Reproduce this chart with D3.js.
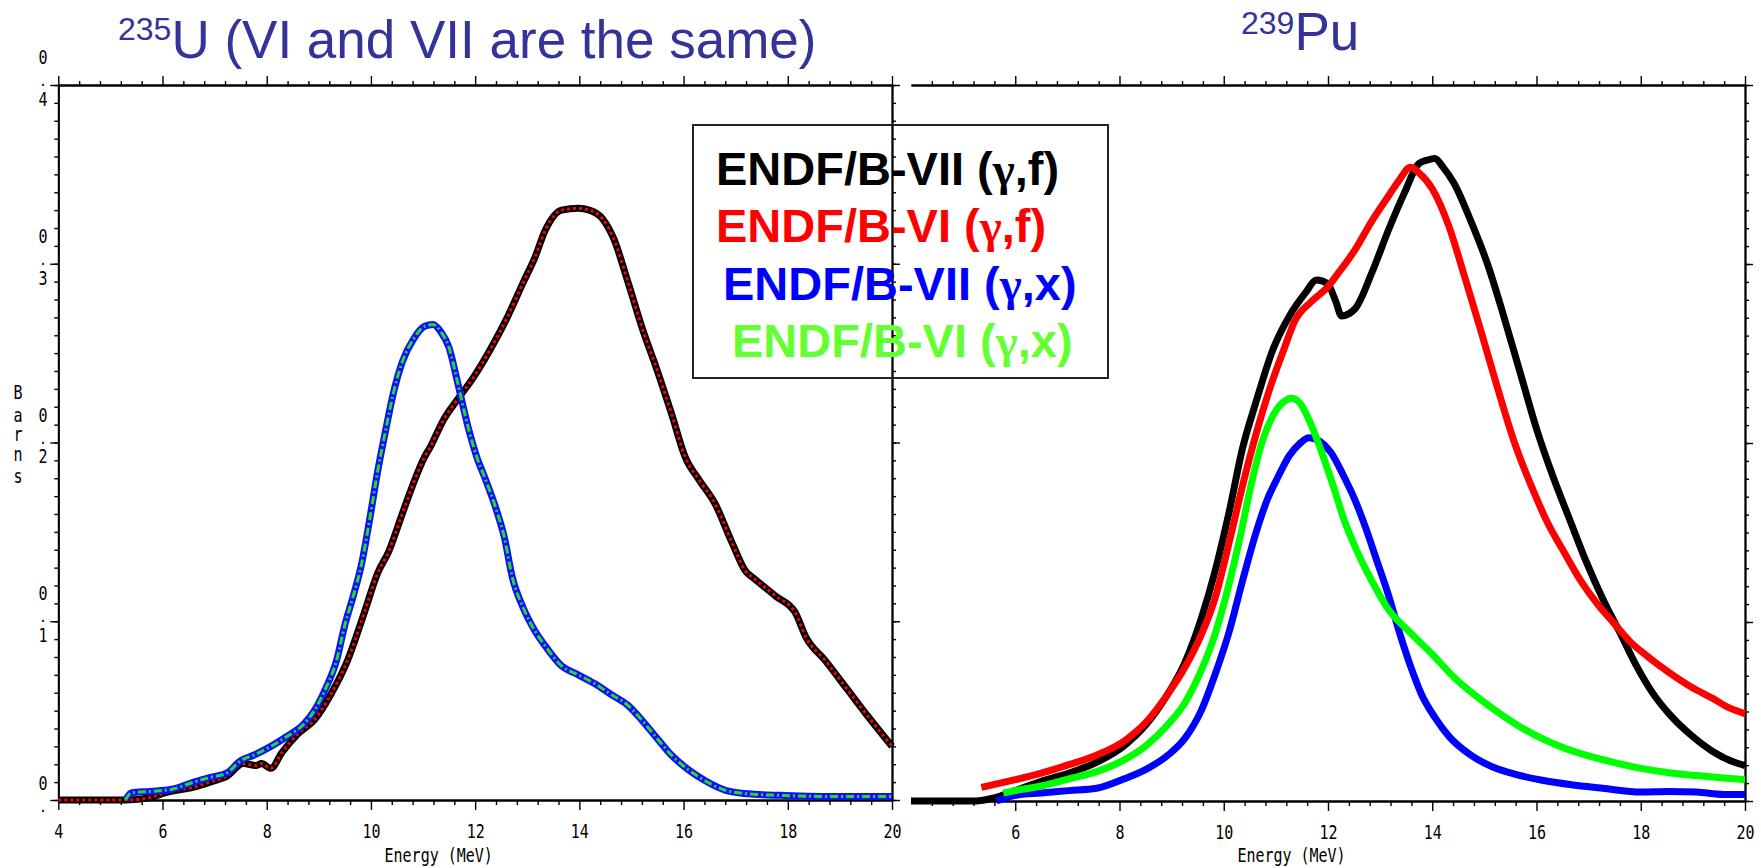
<!DOCTYPE html>
<html><head><meta charset="utf-8">
<script src="https://cdn.jsdelivr.net/npm/d3@7"></script>
<style>body{margin:0;background:#fff}svg{display:block}</style>
</head><body>
<svg id="chart" width="1761" height="868"></svg>
<script>
// ---------- data ----------
const xMajorTicks = [4, 6, 8, 10, 12, 14, 16, 18, 20];
const xMajorTicksPu = [6, 8, 10, 12, 14, 16, 18, 20];
const yMajorTicks = [0, 0.1, 0.2, 0.3, 0.4];
const yTickLabels = ["0.0", "0.1", "0.2", "0.3", "0.4"];
const xAxisTitle = "Energy (MeV)";
const yAxisTitle = "Barns";
const titleU = ["235", "U (VI and VII are the same)"];
const titlePu = ["239", "Pu"];
const legendLabels = [
  ["ENDF/B-VII (", "γ", ",f)"],
  ["ENDF/B-VI (", "γ", ",f)"],
  ["ENDF/B-VII (", "γ", ",x)"],
  ["ENDF/B-VI (", "γ", ",x)"]
];
const legendColors = ["#000000", "#ff0000", "#0000ff", "#66ff33"];

// 235U : VI and VII identical
const u235Fission = [[4,0],[5.3,0],[5.76,0.0013],[6.04,0.004],[6.6,0.0072],[6.97,0.0106],[7.23,0.0132],[7.55,0.0204],[7.8,0.0193],[7.9,0.0204],[8.08,0.0177],[8.29,0.0265],[8.6,0.037],[8.92,0.045],[9.24,0.0596],[9.55,0.078],[9.87,0.1046],[10.13,0.127],[10.34,0.139],[10.6,0.16],[10.8,0.176],[11.03,0.192],[11.13,0.197],[11.4,0.213],[11.66,0.224],[11.98,0.237],[12.29,0.252],[12.6,0.269],[12.93,0.29],[13.14,0.303],[13.35,0.319],[13.66,0.33],[13.98,0.331],[14.19,0.33],[14.45,0.325],[14.66,0.314],[14.93,0.29],[15.24,0.261],[15.45,0.244],[15.77,0.216],[16.03,0.192],[16.3,0.179],[16.6,0.166],[16.93,0.144],[17.19,0.128],[17.35,0.124],[17.77,0.114],[18.14,0.105],[18.35,0.091],[18.72,0.078],[19.14,0.062],[19.56,0.046],[20,0.03]];
const u235Absorption = [[5.29,0],[5.4,0.004],[5.76,0.0048],[6.18,0.006],[6.6,0.01],[6.92,0.0127],[7.23,0.015],[7.5,0.022],[7.76,0.0252],[8.08,0.03],[8.4,0.0358],[8.71,0.0424],[8.92,0.0503],[9.13,0.0623],[9.34,0.078],[9.5,0.098],[9.66,0.114],[9.82,0.132],[9.97,0.156],[10.13,0.184],[10.29,0.208],[10.45,0.23],[10.6,0.245],[10.82,0.258],[11.03,0.265],[11.19,0.266],[11.34,0.262],[11.5,0.253],[11.66,0.234],[11.87,0.208],[12.03,0.192],[12.19,0.18],[12.4,0.163],[12.56,0.147],[12.71,0.125],[12.93,0.107],[13.14,0.095],[13.35,0.086],[13.66,0.075],[13.98,0.07],[14.3,0.065],[14.61,0.059],[14.93,0.053],[15.19,0.045],[15.45,0.036],[15.77,0.025],[16.09,0.017],[16.4,0.011],[16.82,0.0053],[17.35,0.0032],[17.88,0.0026],[18.93,0.0019],[20,0.0019]];

// 239Pu
const puFissionVII = [[4,0],[5.24,0],[5.6,0.0018],[6,0.0058],[6.5,0.011],[7.03,0.0156],[7.56,0.0216],[8.09,0.0309],[8.51,0.0427],[8.93,0.0599],[9.25,0.077],[9.57,0.102],[9.83,0.128],[10.1,0.161],[10.36,0.197],[10.62,0.223],[10.94,0.252],[11.26,0.271],[11.57,0.284],[11.78,0.291],[11.99,0.289],[12.15,0.279],[12.26,0.271],[12.52,0.275],[12.84,0.295],[13.16,0.319],[13.47,0.34],[13.74,0.356],[13.9,0.358],[14.05,0.359],[14.21,0.354],[14.42,0.345],[14.74,0.324],[15.06,0.3],[15.37,0.271],[15.69,0.239],[16,0.208],[16.32,0.181],[16.64,0.157],[16.95,0.134],[17.27,0.113],[17.59,0.0947],[17.9,0.0765],[18.22,0.0607],[18.54,0.0488],[18.96,0.0369],[19.38,0.0277],[19.8,0.0216],[20,0.0198]];
const puFissionVI = [[5.35,0.0076],[6,0.0119],[6.5,0.0156],[7.03,0.0203],[7.56,0.0256],[8.09,0.0335],[8.51,0.044],[8.93,0.0599],[9.25,0.0744],[9.57,0.0929],[9.83,0.113],[10.1,0.144],[10.36,0.176],[10.62,0.205],[10.89,0.231],[11.15,0.252],[11.36,0.268],[11.68,0.279],[11.99,0.287],[12.2,0.295],[12.52,0.308],[12.84,0.324],[13.16,0.338],[13.37,0.347],[13.58,0.354],[13.74,0.351],[14,0.342],[14.32,0.321],[14.63,0.292],[14.95,0.261],[15.27,0.229],[15.58,0.2],[15.9,0.176],[16.22,0.155],[16.53,0.139],[16.85,0.123],[17.17,0.11],[17.48,0.0995],[17.8,0.0889],[18.12,0.081],[18.54,0.0718],[18.96,0.0638],[19.38,0.0573],[19.7,0.052],[20,0.0488]];
const puAbsorptionVII = [[5.64,0],[6,0.0032],[6.5,0.0045],[7.03,0.0058],[7.56,0.0071],[8.09,0.0124],[8.51,0.0177],[8.93,0.0256],[9.25,0.0348],[9.57,0.0506],[9.83,0.0704],[10.1,0.0942],[10.36,0.123],[10.62,0.15],[10.83,0.168],[11.04,0.181],[11.26,0.193],[11.47,0.2],[11.63,0.203],[11.84,0.201],[12.05,0.195],[12.31,0.181],[12.52,0.168],[12.73,0.152],[12.94,0.134],[13.16,0.115],[13.37,0.0942],[13.58,0.0756],[13.79,0.0598],[14.05,0.0467],[14.32,0.0361],[14.74,0.0256],[15.16,0.019],[15.58,0.015],[16.11,0.0116],[16.64,0.0092],[17.27,0.0071],[18.01,0.005],[18.54,0.0053],[19.07,0.005],[19.59,0.0037],[20,0.0037]];
const puAbsorptionVI = [[5.77,0.0045],[6,0.0058],[6.5,0.0084],[7.03,0.0124],[7.56,0.0164],[8.09,0.023],[8.51,0.0309],[8.93,0.0427],[9.25,0.0546],[9.57,0.0731],[9.83,0.0929],[10.1,0.121],[10.31,0.147],[10.52,0.176],[10.73,0.2],[10.94,0.215],[11.15,0.223],[11.31,0.225],[11.47,0.222],[11.68,0.21],[11.89,0.194],[12.1,0.176],[12.31,0.157],[12.52,0.142],[12.84,0.123],[13.16,0.107],[13.58,0.094],[14,0.082],[14.42,0.069],[14.84,0.0586],[15.27,0.0494],[15.69,0.0414],[16.11,0.0348],[16.53,0.0296],[16.95,0.0256],[17.48,0.0216],[18.01,0.0182],[18.54,0.0158],[19.07,0.0142],[19.59,0.0129],[20,0.0119]];

// ---------- drawing ----------
const svg = d3.select("#chart");
const MONO = "'DejaVu Sans Mono', monospace";
const SANS = "'Liberation Sans', Arial, sans-serif";
const STRETCH = 1.3;   // tall, narrow plotter-style glyphs

const xL = d3.scaleLinear().domain([4, 20]).range([58.3, 892]);
const yL = d3.scaleLinear().domain([0, 0.4]).range([800, 85]);
const xR = d3.scaleLinear().domain([4, 20]).range([911, 1745]);
const yR = d3.scaleLinear().domain([0, 0.4]).range([801, 85]);

const xMinor = d3.range(4, 20.001, 0.4).filter(v => Math.abs(v / 2 - Math.round(v / 2)) > 1e-6);
const yMinor = d3.range(0, 0.4001, 0.01);

// stretched monospace text, baseline at (x, y)
function monoText(parent, x, y, str) {
  return parent.append("text")
    .attr("transform", `translate(${x},${y}) scale(1,${STRETCH})`)
    .attr("text-anchor", "middle").attr("font-family", MONO).attr("font-size", 15)
    .attr("fill", "#000").text(str);
}
// vertically stacked characters in ONE text element; offsets in px from (x, y)
function stackedText(parent, x, y, chars, offsets, sizes) {
  const t = parent.append("text")
    .attr("transform", `translate(${x},${y}) scale(1,${STRETCH})`)
    .attr("text-anchor", "middle").attr("font-family", MONO).attr("font-size", 15).attr("fill", "#000");
  chars.forEach((c, k) => {
    const sp = t.append("tspan").attr("x", 0).attr("y", offsets[k] / STRETCH).text(c);
    if (sizes && sizes[k]) sp.attr("font-size", sizes[k]).attr("font-weight", "bold");
  });
  return t;
}

function styleAxis(g) {
  g.selectAll("path.domain").attr("stroke", "#000").attr("stroke-width", 1.8);
  g.selectAll(".tick line").attr("stroke", "#000").attr("stroke-width", 1.4);
  g.attr("font-family", null).attr("font-size", null);
}

function drawFrame(x, y, majorX, leftAxis) {
  const [x0, x1] = x.range();
  const [yb, yt] = y.range();
  // bottom
  svg.append("g").attr("transform", `translate(0,${yb})`)
    .call(d3.axisBottom(x).tickValues(xMinor).tickSize(5).tickSizeOuter(0).tickFormat(""))
    .call(styleAxis);
  const gb = svg.append("g").attr("transform", `translate(0,${yb})`)
    .call(d3.axisBottom(x).tickValues(majorX).tickSize(10).tickSizeOuter(0).tickFormat(d3.format("d")))
    .call(styleAxis);
  gb.selectAll(".tick text")
    .attr("y", null).attr("dy", null).attr("font-family", MONO).attr("font-size", 15)
    .attr("fill", "#000").attr("transform", `translate(0,38) scale(1,${STRETCH})`);
  // top
  svg.append("g").attr("transform", `translate(0,${yt})`)
    .call(d3.axisTop(x).tickValues(xMinor).tickSize(4).tickSizeOuter(0).tickFormat(""))
    .call(styleAxis);
  svg.append("g").attr("transform", `translate(0,${yt})`)
    .call(d3.axisTop(x).tickValues(majorX).tickSize(9).tickSizeOuter(0).tickFormat(""))
    .call(styleAxis);
  // right
  svg.append("g").attr("transform", `translate(${x1},0)`)
    .call(d3.axisRight(y).tickValues(yMinor).tickSize(4).tickSizeOuter(0).tickFormat(""))
    .call(styleAxis);
  svg.append("g").attr("transform", `translate(${x1},0)`)
    .call(d3.axisRight(y).tickValues(yMajorTicks).tickSize(8).tickSizeOuter(0).tickFormat(""))
    .call(styleAxis);
  if (leftAxis) {
    svg.append("g").attr("transform", `translate(${x0},0)`)
      .call(d3.axisLeft(y).tickValues(yMinor).tickSize(4).tickSizeOuter(0).tickFormat(""))
      .call(styleAxis);
    svg.append("g").attr("transform", `translate(${x0},0)`)
      .call(d3.axisLeft(y).tickValues(yMajorTicks).tickSize(8).tickSizeOuter(0).tickFormat(""))
      .call(styleAxis);
  }
  monoText(svg, x(11.3), 862, xAxisTitle);
}

drawFrame(xL, yL, xMajorTicks, true);
drawFrame(xR, yR, xMajorTicksPu, false);

// stacked (vertical) y tick labels on the left panel
yMajorTicks.forEach((v, i) => {
  const lab = yTickLabels[i];
  const chars = v === 0 ? lab.slice(0, 2).split("") : lab.split("");
  const offs = v === 0 ? [-10, 12] : [-21, 1, 21];
  const sizes = v === 0 ? [null, 10] : [null, 10, null];
  stackedText(svg, 43, yL(v), chars, offs, sizes);
});

// vertical "Barns"
const barnsOffsets = [0, 23, 42, 62, 84];
stackedText(svg, 18, 399, yAxisTitle.split(""), barnsOffsets, null);

// curves
const lineL = d3.line().x(d => xL(d[0])).y(d => yL(d[1])).curve(d3.curveMonotoneX);
const lineR = d3.line().x(d => xR(d[0])).y(d => yR(d[1])).curve(d3.curveMonotoneX);

function path(gen, data, color, width, dash) {
  svg.append("path").datum(data).attr("d", gen).attr("fill", "none")
    .attr("stroke", color).attr("stroke-width", width)
    .attr("stroke-linejoin", "round").attr("stroke-linecap", "butt")
    .attr("stroke-dasharray", dash || null);
}

// 235U : VII solid under VI patterned (identical data)
path(lineL, u235Fission, "#000000", 7);
path(lineL, u235Fission, "#ff0000", 3, "3,3");
path(lineL, u235Absorption, "#1010ff", 7);
path(lineL, u235Absorption, "#22dd22", 3, "8,3,2,3");

// 239Pu
path(lineR, puFissionVII, "#000000", 7);
path(lineR, puFissionVI, "#ff0000", 7);
path(lineR, puAbsorptionVII, "#0000ff", 7);
path(lineR, puAbsorptionVI, "#00ff00", 7);

// titles
const tU = svg.append("text").attr("x", 118).attr("y", 58).attr("font-family", SANS).attr("fill", "#333399");
tU.append("tspan").attr("font-size", 32).attr("dy", -18).text(titleU[0]);
tU.append("tspan").attr("font-size", 53).attr("dy", 18).text(titleU[1]);
const tP = svg.append("text").attr("x", 1241).attr("y", 50).attr("font-family", SANS).attr("fill", "#333399");
tP.append("tspan").attr("font-size", 32).attr("dy", -16).text(titlePu[0]);
tP.append("tspan").attr("font-size", 53).attr("dy", 16).text(titlePu[1]);

// legend
svg.append("rect").attr("x", 693).attr("y", 125).attr("width", 415).attr("height", 253)
  .attr("fill", "none").attr("stroke", "#222").attr("stroke-width", 2);
const legX = [716, 716, 723, 732];
const legY = [185, 242, 300, 357];
legendLabels.forEach((parts, i) => {
  const t = svg.append("text").attr("x", legX[i]).attr("y", legY[i])
    .attr("font-family", SANS).attr("font-weight", "bold").attr("font-size", 47)
    .attr("fill", legendColors[i]);
  t.append("tspan").text(parts[0]);
  t.append("tspan").attr("font-family", "'Liberation Serif', serif").text(parts[1]);
  t.append("tspan").text(parts[2]);
});
</script>
</body></html>
